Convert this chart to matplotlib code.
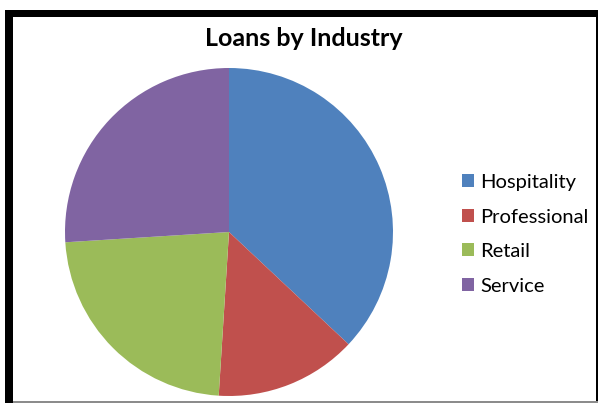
import matplotlib
matplotlib.use("Agg")
import matplotlib.pyplot as plt
from matplotlib.patches import Rectangle

categories = ["Hospitality", "Professional", "Retail", "Service"]
values = [37, 14, 23, 26]
colors = ["#4F81BD", "#C0504D", "#9BBB59", "#8064A2"]
title = "Loans by Industry"

W, H = 598, 403
fig = plt.figure(figsize=(W / 100, H / 100), dpi=100)
fig.patch.set_facecolor("white")

# frame borders (pixel coords -> figure fraction)
def px(x0, y0, x1, y1, color):
    fig.patches.append(Rectangle((x0 / W, 1 - y1 / H), (x1 - x0) / W, (y1 - y0) / H,
                                 transform=fig.transFigure, facecolor=color,
                                 edgecolor="none", zorder=0))

px(5, 10, 597.5, 17, "black")      # top thick
px(5, 10, 13, 403, "black")        # left thick
px(596, 10, 597.5, 401, "black")   # right thin
px(13, 401, 597.5, 403, "#8C8C8C") # bottom gray

# pie axes: center (229,232), radius 164
cx, cy, r = 229, 232, 164
ax = fig.add_axes([(cx - r) / W, 1 - (cy + r) / H, 2 * r / W, 2 * r / H])
wedges, _ = ax.pie(values, colors=colors, startangle=90, counterclock=False,
                   wedgeprops=dict(linewidth=0))
ax.set_aspect("equal")
ax.set_xlim(-1, 1)
ax.set_ylim(-1, 1)
ax.axis("off")

fig.text(304 / W, 1 - 38 / H, title, ha="center", va="center",
         fontsize=18, fontweight="bold", family="Lato")

leg = fig.legend(wedges, categories, loc="upper left",
                 bbox_to_anchor=(462 / W, 1 - 174 / H), frameon=False,
                 prop=dict(family="Lato", size=14.5),
                 handlelength=0.62, handleheight=0.62, handletextpad=0.3,
                 labelspacing=0.87, borderpad=0, borderaxespad=0)

fig.savefig("out.png", dpi=100, facecolor="white")
